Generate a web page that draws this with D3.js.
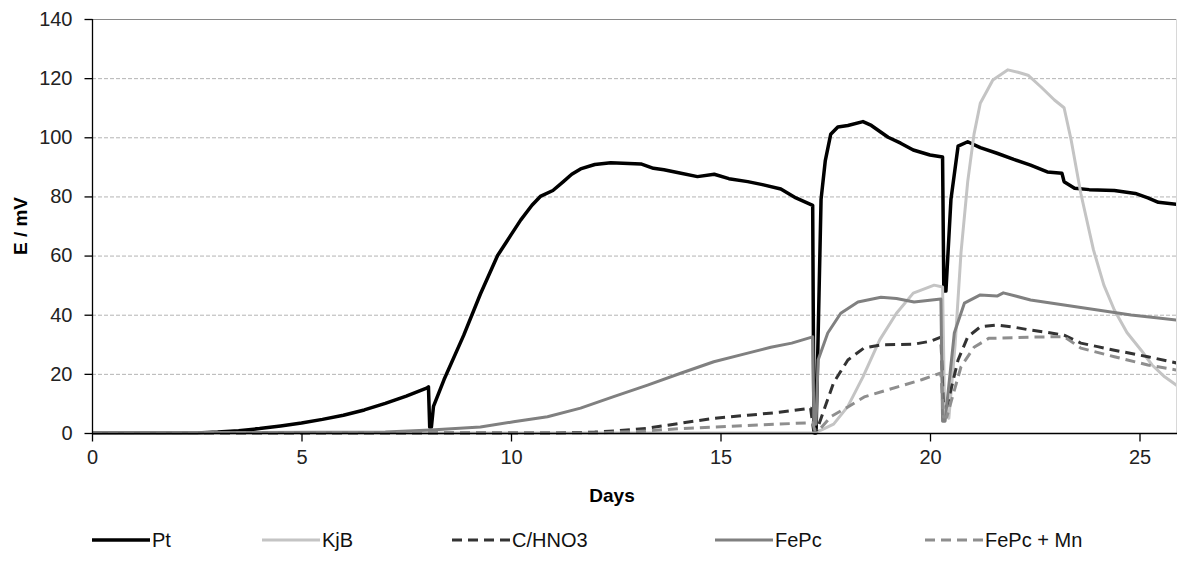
<!DOCTYPE html>
<html>
<head>
<meta charset="utf-8">
<script src="https://cdn.jsdelivr.net/npm/d3@7/dist/d3.min.js"></script>
<style>
  html, body { margin: 0; padding: 0; background: #fff; }
  svg { display: block; font-family: "Liberation Sans", Arial, sans-serif; }
</style>
</head>
<body>
<svg id="chart" width="1177" height="563"></svg>
<script>
// ---- data (day, E in mV) ----
const seriesNames = ["Pt", "KjB", "C/HNO3", "FePc", "FePc + Mn"];
const xTicks = [0, 5, 10, 15, 20, 25];
const yTicks = [0, 20, 40, 60, 80, 100, 120, 140];

const pt = [[0,0],[2.5,0],[3,0.3],[3.5,0.8],[4,1.5],[4.5,2.4],[5,3.4],[5.5,4.6],[6,6],[6.5,7.8],[7,10],[7.5,12.5],[8,15.3],[8.03,15.6],[8.06,2],[8.1,2],[8.15,9],[8.4,18],[8.87,33],[9.27,47],[9.68,60],[10,67],[10.23,72],[10.5,77],[10.7,80],[11,82],[11.25,85],[11.45,87.5],[11.66,89.3],[12,90.8],[12.38,91.4],[13.1,91],[13.4,89.5],[13.65,89],[14,88],[14.45,86.7],[14.85,87.5],[15.2,86],[15.65,85],[16,84],[16.44,82.5],[16.8,79.5],[17.2,77],[17.23,0],[17.28,0],[17.4,79],[17.5,92],[17.63,101],[17.8,103.5],[18.04,104],[18.4,105.3],[18.6,104],[19,100],[19.3,98],[19.6,95.7],[20,94],[20.3,93.3],[20.33,48],[20.38,48],[20.5,79],[20.67,97],[20.9,98.5],[21.2,96.5],[21.6,94.6],[22,92.5],[22.4,90.6],[22.8,88.3],[23.15,87.8],[23.2,85],[23.45,82.8],[23.8,82.3],[24.4,82],[24.9,81],[25.2,79.5],[25.45,78],[25.9,77.3],[26,77]];

const kjb = [[0,0],[17.2,0],[17.4,1],[17.7,3],[18.04,9],[18.4,19],[18.8,31.5],[19.2,40.5],[19.6,47.3],[20.1,50],[20.3,49.4],[20.35,6],[20.45,5],[20.6,30],[20.74,61],[20.9,85],[21.05,101],[21.2,111.5],[21.5,119.4],[21.86,122.8],[22.1,122],[22.34,121],[22.65,117],[22.97,112.6],[23.2,110],[23.37,99],[23.6,81],[23.9,62],[24.15,50],[24.4,41.6],[24.7,34],[25.04,28],[25.3,23],[25.6,19],[26,15]];

const cHno3 = [[0,0],[11,0],[12,0.3],[12.5,0.7],[13.25,1.6],[14.05,3.3],[14.85,5],[15.65,6],[16.4,7],[17.15,8.4],[17.22,1],[17.3,1],[17.47,7.8],[17.7,17],[18.04,24.7],[18.42,28.7],[18.83,29.8],[19.6,30],[20,31],[20.26,32.4],[20.32,8.8],[20.4,8.8],[20.67,24.7],[20.9,32.5],[21.2,35.9],[21.6,36.5],[22,35.8],[22.4,34.8],[22.8,34],[23.2,33.1],[23.6,30.4],[24,29.2],[24.4,28],[25.2,25.8],[26,23.3]];

const fepc = [[0,0],[7,0.3],[8.08,1],[9.27,2],[10.06,3.8],[10.87,5.5],[11.66,8.4],[12.45,12.3],[13.26,16.2],[14.05,20.2],[14.84,24.1],[15.65,27],[16.2,29],[16.7,30.4],[17.2,32.5],[17.23,3],[17.28,3],[17.33,24.7],[17.56,33.8],[17.87,40.5],[18.28,44.3],[18.83,45.9],[19.2,45.5],[19.62,44.3],[20.26,45.3],[20.3,4],[20.36,4],[20.58,33.8],[20.82,43.9],[21.2,46.7],[21.6,46.3],[21.75,47.4],[22.4,45],[23.2,43.3],[24,41.6],[24.8,39.9],[25.4,39],[26,38]];

const fepcMn = [[0,0],[12,0],[13,0.5],[14.05,1.5],[14.85,2],[16.37,3],[17.2,3.5],[17.25,1],[17.35,1],[17.64,5.6],[18.04,8.8],[18.43,12.2],[19.23,15.6],[19.8,18],[20.26,20.3],[20.32,5.4],[20.4,5.4],[20.74,22.4],[21.05,29],[21.4,32],[22.4,32.4],[23.2,32.6],[23.6,28.7],[24.4,25.8],[25.2,23],[26,21]];

// ---- styles ----
const styles = [
  {data: pt,     color: "#000000", width: 3.5, dash: null},
  {data: kjb,    color: "#c4c4c4", width: 3,   dash: null},
  {data: cHno3,  color: "#333333", width: 3,   dash: "10,6"},
  {data: fepc,   color: "#808080", width: 3,   dash: null},
  {data: fepcMn, color: "#8e8e8e", width: 3,   dash: "10,6"}
];

const svg = d3.select("#chart");
const pLeft = 92, pTop = 19, pBottom = 433, pRight = 1176;
const x = d3.scaleLinear().domain([0, 26]).range([pLeft, pLeft + 26 * 41.9]);
const y = d3.scaleLinear().domain([0, 140]).range([pBottom, pTop]);

// gridlines
svg.append("g").selectAll("line").data(yTicks.filter(v => v > 0 && v < 140)).join("line")
  .attr("x1", pLeft).attr("x2", pRight)
  .attr("y1", d => y(d) + 0.5).attr("y2", d => y(d) + 0.5)
  .attr("stroke", "#b4b4b4").attr("stroke-width", 1).attr("stroke-dasharray", "4,2");

// plot border top/right
svg.append("line").attr("x1", pLeft).attr("x2", 1177).attr("y1", pTop + 0.5).attr("y2", pTop + 0.5)
  .attr("stroke", "#8a8a8a").attr("stroke-width", 1.2);
svg.append("line").attr("x1", pRight + 0.5).attr("x2", pRight + 0.5).attr("y1", pTop).attr("y2", pBottom)
  .attr("stroke", "#d8d8d8").attr("stroke-width", 1);

// clip
svg.append("clipPath").attr("id", "clip").append("rect")
  .attr("x", pLeft).attr("y", 0).attr("width", pRight - pLeft).attr("height", pBottom + 5);

const line = d3.line().x(d => x(d[0])).y(d => y(d[1]));
const g = svg.append("g").attr("clip-path", "url(#clip)");
styles.forEach(s => {
  g.append("path").attr("d", line(s.data)).attr("fill", "none")
    .attr("stroke", s.color).attr("stroke-width", s.width)
    .attr("stroke-linejoin", "round")
    .attr("stroke-dasharray", s.dash);
});

// axes
const yAxis = d3.axisLeft(y).tickValues(yTicks).tickSize(8).tickPadding(12).tickFormat(d3.format("d"));
const yg = svg.append("g").attr("transform", `translate(${pLeft + 0.5},0)`).call(yAxis);
const xAxis = d3.axisBottom(x).tickValues(xTicks).tickSize(8).tickPadding(8).tickFormat(d3.format("d"));
const xg = svg.append("g").attr("transform", `translate(0,${pBottom + 0.5})`).call(xAxis);
[yg, xg].forEach(a => {
  a.select(".domain").attr("stroke", "#000").attr("stroke-width", 1.3);
  a.selectAll(".tick line").attr("stroke", "#000").attr("stroke-width", 1.3);
  a.selectAll("text").attr("font-size", 20).attr("fill", "#222")
    .attr("font-family", "'Liberation Sans', Arial, sans-serif");
});
xg.select(".domain").attr("d", `M${pLeft},0H1177`);
yg.select(".domain").attr("d", `M0,${pTop}V${pBottom}`);

// axis titles
svg.append("text").attr("x", (pLeft + pRight) / 2 - 22).attr("y", 502)
  .attr("text-anchor", "middle").attr("font-size", 19).attr("font-weight", "bold").text("Days");
svg.append("text").attr("transform", `translate(27,${(pTop + pBottom) / 2}) rotate(-90)`)
  .attr("text-anchor", "middle").attr("font-size", 19).attr("font-weight", "bold").text("E / mV");

// legend
const legendX = [92, 262, 452, 715, 925];
const leg = svg.append("g");
styles.forEach((s, i) => {
  const lx = legendX[i], ly = 540;
  leg.append("line").attr("x1", lx).attr("x2", lx + 58).attr("y1", ly).attr("y2", ly)
    .attr("stroke", s.color).attr("stroke-width", s.width).attr("stroke-dasharray", s.dash);
  leg.append("text").attr("x", lx + 60).attr("y", ly + 7).attr("font-size", 20)
    .attr("fill", "#111").text(seriesNames[i]);
});
</script>
</body>
</html>
